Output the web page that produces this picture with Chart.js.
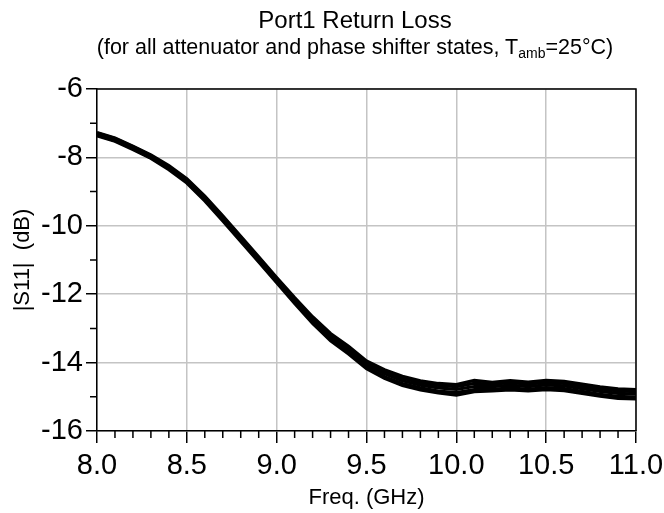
<!DOCTYPE html>
<html>
<head>
<meta charset="utf-8">
<script src="https://cdn.jsdelivr.net/npm/chart.js@4.4.1/dist/chart.umd.min.js"></script>
<style>
  html, body { margin: 0; padding: 0; background: #fff; }
  #wrap { position: relative; width: 664px; height: 513px; font-family: "Liberation Sans", Arial, sans-serif; color: #000; }
  .t { position: absolute; left: 55px; width: 600px; text-align: center; white-space: nowrap; }
  #t1 { top: 6px; font-size: 24px; line-height: 28px; }
  #t2 { top: 34px; font-size: 21.5px; line-height: 26px; }
  #t2 span { font-size: 14px; position: relative; top: 4px; line-height: 0; }
  canvas { position: absolute; left: 0; top: 0; }
</style>
</head>
<body>
<div id="wrap">
  <canvas id="c" width="664" height="513"></canvas>
  <div class="t" id="t1">Port1 Return Loss</div>
  <div class="t" id="t2">(for all attenuator and phase shifter states, T<span>amb</span>=25°C)</div>
</div>
<script>
// frequency points (GHz)
const freq = [8.0, 8.1, 8.2, 8.3, 8.4, 8.5, 8.6, 8.7, 8.8, 8.9, 9.0, 9.1, 9.2, 9.3, 9.4, 9.5,
              9.6, 9.7, 9.8, 9.9, 10.0, 10.1, 10.2, 10.3, 10.4, 10.5, 10.6, 10.7, 10.8, 10.9, 11.0];

// |S11| (dB) for a handful of states, top to bottom of the bundle
const state1 = [-7.27, -7.43, -7.67, -7.93, -8.24, -8.62, -9.13, -9.71, -10.31, -10.91, -11.51, -12.10, -12.66, -13.15, -13.52, -13.95,
                -14.21, -14.40, -14.53, -14.61, -14.64, -14.52, -14.58, -14.53, -14.57, -14.52, -14.55, -14.63, -14.71, -14.77, -14.79];
const state2 = [-7.29, -7.45, -7.69, -7.95, -8.27, -8.65, -9.16, -9.74, -10.34, -10.94, -11.54, -12.14, -12.70, -13.19, -13.57, -14.00,
                -14.26, -14.46, -14.59, -14.67, -14.70, -14.61, -14.63, -14.59, -14.63, -14.58, -14.61, -14.69, -14.77, -14.83, -14.85];
const state3 = [-7.32, -7.48, -7.72, -7.98, -8.30, -8.68, -9.20, -9.78, -10.38, -10.98, -11.58, -12.18, -12.75, -13.25, -13.63, -14.06,
                -14.33, -14.53, -14.66, -14.74, -14.78, -14.70, -14.70, -14.66, -14.70, -14.65, -14.68, -14.76, -14.84, -14.90, -14.92];
const state4 = [-7.35, -7.51, -7.75, -8.01, -8.33, -8.72, -9.24, -9.82, -10.42, -11.03, -11.63, -12.23, -12.81, -13.31, -13.70, -14.13,
                -14.41, -14.61, -14.74, -14.83, -14.88, -14.79, -14.78, -14.74, -14.78, -14.73, -14.76, -14.84, -14.93, -14.99, -15.01];
const state5 = [-7.37, -7.53, -7.77, -8.03, -8.36, -8.75, -9.27, -9.86, -10.46, -11.06, -11.66, -12.27, -12.85, -13.36, -13.75, -14.18,
                -14.46, -14.67, -14.80, -14.89, -14.95, -14.85, -14.83, -14.80, -14.83, -14.79, -14.82, -14.90, -14.98, -15.05, -15.06];

const xTicks = [8.0, 8.5, 9.0, 9.5, 10.0, 10.5, 11.0];
const yTicks = [-16, -14, -12, -10, -8, -6];
const xMinor = [8.1, 8.2, 8.3, 8.4, 8.6, 8.7, 8.8, 8.9, 9.1, 9.2, 9.3, 9.4, 9.6, 9.7, 9.8, 9.9,
                10.1, 10.2, 10.3, 10.4, 10.6, 10.7, 10.8, 10.9];
const yMinor = [-15, -13, -11, -9, -7];

const FONT = '"Liberation Sans", Arial, sans-serif';

// top/right frame and the minor tick marks
const frameTicks = {
  id: 'frameTicks',
  afterDatasetsDraw(chart) {
    const { ctx, chartArea: a, scales: { x, y } } = chart;
    ctx.save();
    ctx.strokeStyle = '#000';
    ctx.lineWidth = 1.5;
    ctx.beginPath();
    ctx.moveTo(a.left, a.top);
    ctx.lineTo(a.right, a.top);
    ctx.lineTo(a.right, a.bottom);
    xMinor.forEach(v => {
      const px = x.getPixelForValue(v);
      ctx.moveTo(px, a.bottom);
      ctx.lineTo(px, a.bottom + 7);
    });
    yMinor.forEach(v => {
      const py = y.getPixelForValue(v);
      ctx.moveTo(a.left, py);
      ctx.lineTo(a.left - 7, py);
    });
    ctx.stroke();
    ctx.restore();
  }
};

const series = [state1, state2, state3, state4, state5];

const ctx = document.getElementById('c').getContext('2d');
const s11Chart = new Chart(ctx, {
  type: 'line',
  data: {
    datasets: series.map((s, k) => ({
      label: 'state ' + (k + 1),
      data: freq.map((f, i) => ({ x: f, y: s[i] })),
      borderColor: '#000',
      borderWidth: 3.2,
      pointRadius: 0,
      tension: 0,
      fill: false
    }))
  },
  options: {
    responsive: false,
    animation: false,
    devicePixelRatio: 1,
    layout: { padding: { left: 0, right: 28, top: 89, bottom: 0 } },
    plugins: { legend: { display: false }, tooltip: { enabled: false } },
    scales: {
      x: {
        type: 'linear',
        min: 8,
        max: 11,
        afterBuildTicks: s => { s.ticks = xTicks.map(v => ({ value: v })); },
        afterFit: s => { s.height = 82; s.paddingLeft = 0; s.paddingRight = 0; },
        ticks: {
          callback: v => Number(v).toFixed(1),
          font: { family: FONT, size: 29 },
          color: '#000',
          padding: 6,
          maxRotation: 0,
          autoSkip: false
        },
        grid: { color: '#c4c4c4', lineWidth: 1.5, tickColor: '#000', tickLength: 12, tickWidth: 1.5 },
        border: { color: '#000', width: 1.5 },
        title: { display: true, text: 'Freq. (GHz)', color: '#000', font: { family: FONT, size: 22 }, padding: { top: 0, bottom: 2 } }
      },
      y: {
        min: -16,
        max: -6,
        afterBuildTicks: s => { s.ticks = yTicks.map(v => ({ value: v })); },
        afterFit: s => { s.width = 97; },
        ticks: {
          font: { family: FONT, size: 29 },
          color: '#000',
          padding: 3
        },
        grid: { color: '#c4c4c4', lineWidth: 1.5, tickColor: '#000', tickLength: 11, tickWidth: 1.5 },
        border: { color: '#000', width: 1.5 },
        title: { display: true, text: '|S11|  (dB)', color: '#000', font: { family: FONT, size: 22 }, padding: { top: 10, bottom: 0 } }
      }
    }
  },
  plugins: [frameTicks]
});
</script>
</body>
</html>
